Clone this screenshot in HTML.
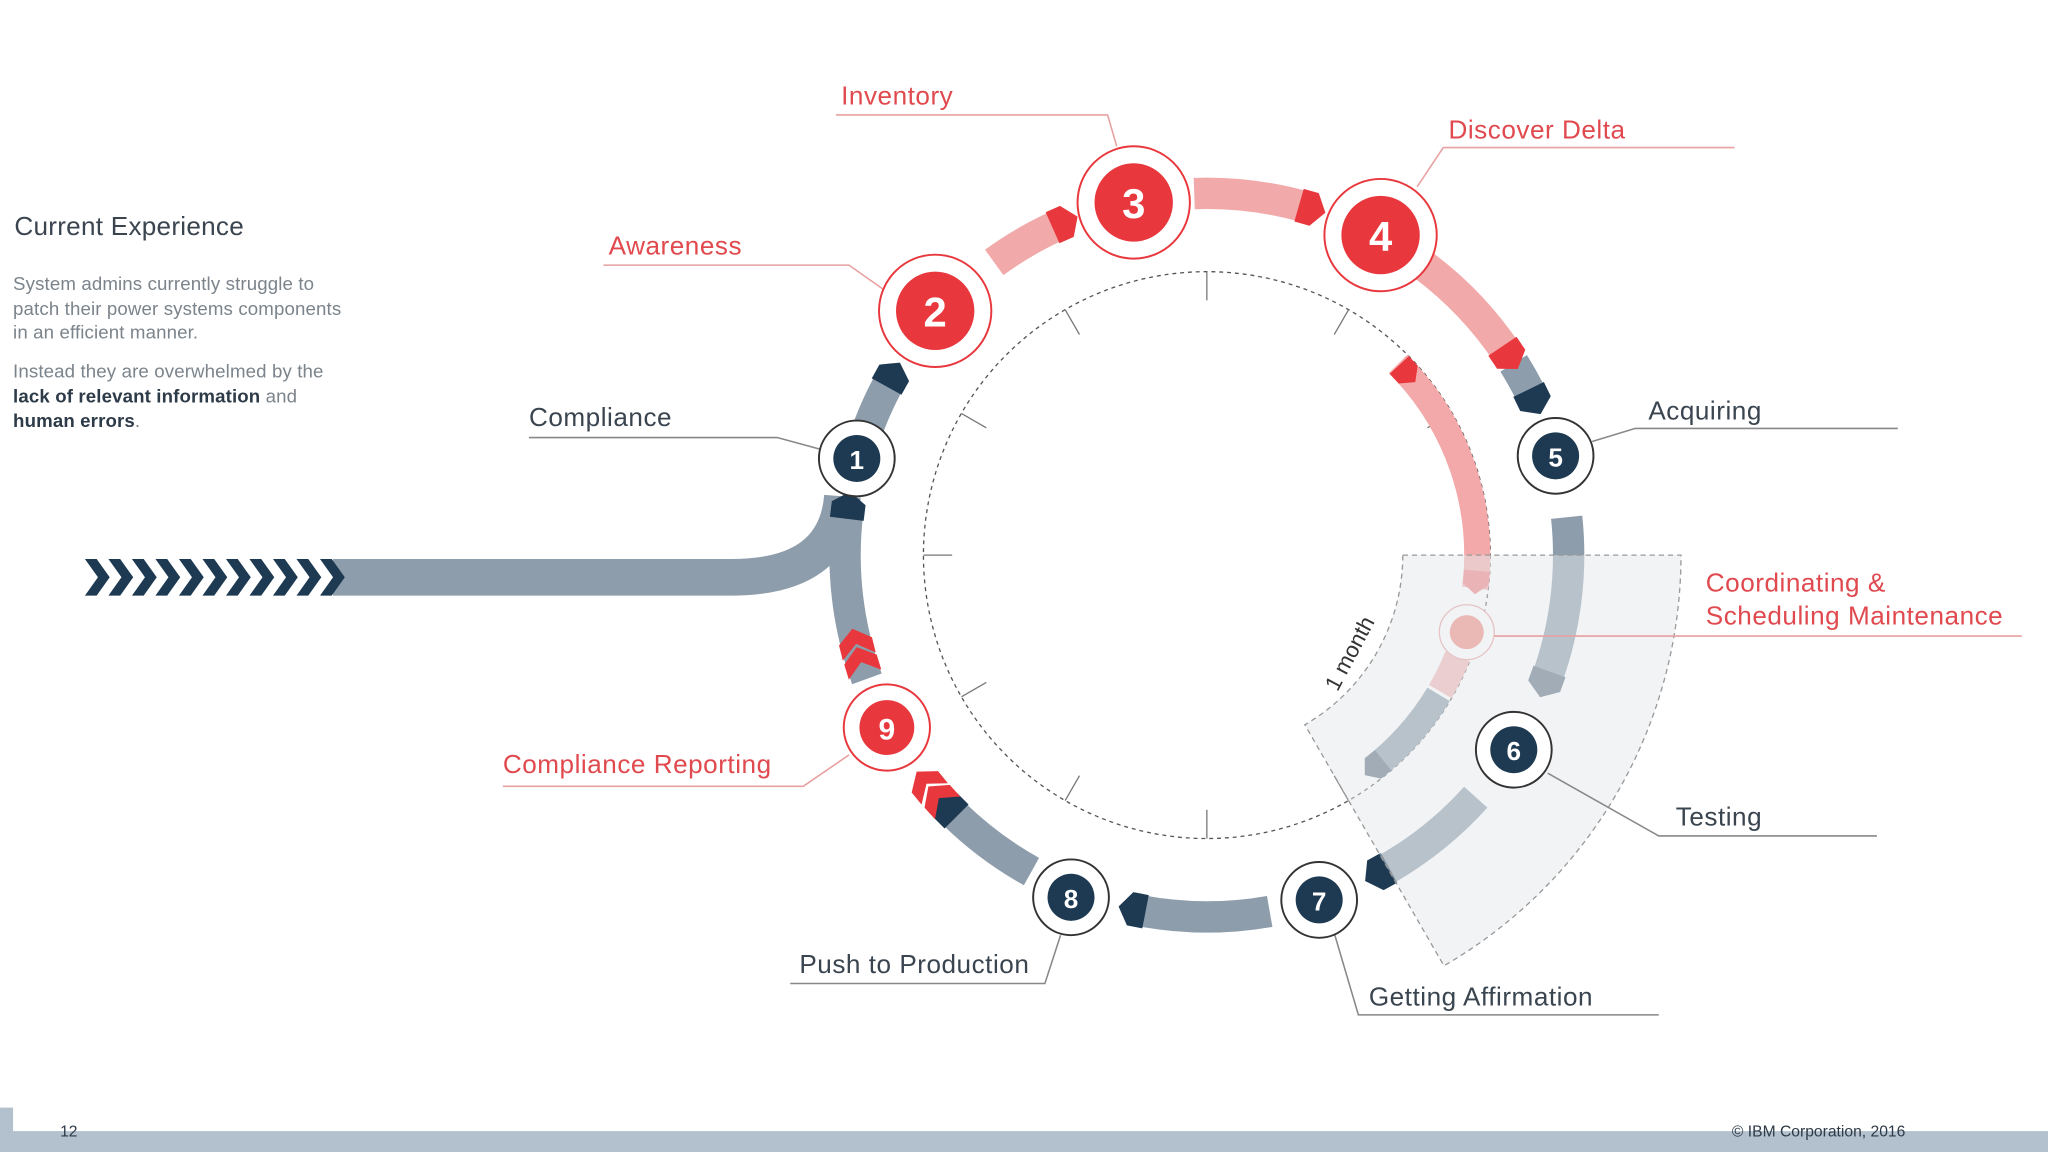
<!DOCTYPE html>
<html><head><meta charset="utf-8"><style>
html,body{margin:0;padding:0;background:#fff;}
svg{display:block;}
text{font-family:"Liberation Sans",sans-serif;}
</style></head><body>
<svg width="2048" height="1152" viewBox="0 0 1568 882" preserveAspectRatio="none" xmlns="http://www.w3.org/2000/svg">
<rect width="1568" height="882" fill="#fff"/>
<!-- left text -->
<text x="11" y="180" font-size="20" fill="#3a4550" letter-spacing="0.2">Current Experience</text>
<g font-size="14.3" fill="#7b838b" letter-spacing="0.1">
<text x="10" y="222">System admins currently struggle to</text>
<text x="10" y="241">patch their power systems components</text>
<text x="10" y="259">in an efficient manner.</text>
<text x="10" y="289">Instead they are overwhelmed by the</text>
<text x="10" y="308"><tspan font-weight="bold" fill="#2d3a47">lack of relevant information</tspan> and</text>
<text x="10" y="327"><tspan font-weight="bold" fill="#2d3a47">human errors</tspan>.</text>
</g>
<!-- entry arrow -->
<path d="M255,442 H560 Q640,442 645,380" fill="none" stroke="#8d9dab" stroke-width="28"/>
<g fill="#1e3a52">
<polygon points="65,428 74,428 84,442 74,456 65,456 75,442"/>
<polygon points="83,428 92,428 102,442 92,456 83,456 93,442"/>
<polygon points="101,428 110,428 120,442 110,456 101,456 111,442"/>
<polygon points="119,428 128,428 138,442 128,456 119,456 129,442"/>
<polygon points="137,428 146,428 156,442 146,456 137,456 147,442"/>
<polygon points="155,428 164,428 174,442 164,456 155,456 165,442"/>
<polygon points="173,428 182,428 192,442 182,456 173,456 183,442"/>
<polygon points="191,428 200,428 210,442 200,456 191,456 201,442"/>
<polygon points="209,428 218,428 228,442 218,456 209,456 219,442"/>
<polygon points="227,428 236,428 246,442 236,456 227,456 237,442"/>
<polygon points="245,428 254,428 264,442 254,456 245,456 255,442"/>
</g>
<!-- dashed inner circle -->
<circle cx="924" cy="425" r="217" fill="none" stroke="#555" stroke-width="1" stroke-dasharray="3 3"/>
<g stroke="#777" stroke-width="1">
<line x1="924" y1="208" x2="924" y2="230"/>
<line x1="924" y1="208" x2="924" y2="230" transform="rotate(30 924 425)"/>
<line x1="924" y1="208" x2="924" y2="230" transform="rotate(60 924 425)"/>
<line x1="924" y1="208" x2="924" y2="230" transform="rotate(150 924 425)"/>
<line x1="924" y1="208" x2="924" y2="230" transform="rotate(180 924 425)"/>
<line x1="924" y1="208" x2="924" y2="230" transform="rotate(210 924 425)"/>
<line x1="924" y1="208" x2="924" y2="230" transform="rotate(240 924 425)"/>
<line x1="924" y1="208" x2="924" y2="230" transform="rotate(270 924 425)"/>
<line x1="924" y1="208" x2="924" y2="230" transform="rotate(300 924 425)"/>
<line x1="924" y1="208" x2="924" y2="230" transform="rotate(330 924 425)"/>
</g>
<!-- outer ring arcs: r=277, 4.834 per degree -->
<g fill="none" stroke-width="24">
<circle cx="924" cy="425" r="277" stroke="#8d9dab" stroke-dasharray="40 2000" transform="rotate(201 924 425)"/>
<circle cx="924" cy="425" r="277" stroke="#f2a9a9" stroke-dasharray="58 2000" transform="rotate(234 924 425)"/>
<circle cx="924" cy="425" r="277" stroke="#f2a9a9" stroke-dasharray="87 2000" transform="rotate(268 924 425)"/>
<circle cx="924" cy="425" r="277" stroke="#f2a9a9" stroke-dasharray="92 2000" transform="rotate(307 924 425)"/>
<circle cx="924" cy="425" r="277" stroke="#8d9dab" stroke-dasharray="36 2000" transform="rotate(328 924 425)"/>
<circle cx="924" cy="425" r="277" stroke="#8d9dab" stroke-dasharray="130 2000" transform="rotate(354 924 425)"/>
<circle cx="924" cy="425" r="277" stroke="#8d9dab" stroke-dasharray="94 2000" transform="rotate(42 924 425)"/>
<circle cx="924" cy="425" r="277" stroke="#8d9dab" stroke-dasharray="104 2000" transform="rotate(80 924 425)"/>
<circle cx="924" cy="425" r="277" stroke="#8d9dab" stroke-dasharray="75 2000" transform="rotate(119 924 425)"/>
<circle cx="924" cy="425" r="277" stroke="#8d9dab" stroke-dasharray="130 2000" transform="rotate(160 924 425)"/>
</g>
<!-- arrowheads -->
<g>
<polygon points="1188,419 1214,419 1214,431 1201,440 1188,431" fill="#1e3a52" transform="rotate(209 924 425)"/>
<polygon points="1188,419 1214,419 1214,431 1201,440 1188,431" fill="#e8383d" transform="rotate(246 924 425)"/>
<polygon points="1188,419 1214,419 1214,431 1201,440 1188,431" fill="#e8383d" transform="rotate(286 924 425)"/>
<polygon points="1188,419 1214,419 1214,431 1201,440 1188,431" fill="#e8383d" transform="rotate(326 924 425)"/>
<polygon points="1188,419 1214,419 1214,431 1201,440 1188,431" fill="#1e3a52" transform="rotate(334 924 425)"/>
<polygon points="1188,419 1214,419 1214,431 1201,440 1188,431" fill="#5f7080" transform="rotate(380 924 425)"/>
<polygon points="1188,419 1214,419 1214,431 1201,440 1188,431" fill="#1e3a52" transform="rotate(61 924 425)"/>
<polygon points="1188,419 1214,419 1214,431 1201,440 1188,431" fill="#1e3a52" transform="rotate(101 924 425)"/>
<polygon points="1188,419 1214,419 1214,431 1201,440 1188,431" fill="#1e3a52" transform="rotate(135 924 425)"/>
<polygon points="1188,414 1201,424 1214,414 1214,426 1201,436 1188,426" fill="#e8383d" transform="rotate(138 924 425)"/>
<polygon points="1188,414 1201,424 1214,414 1214,426 1201,436 1188,426" fill="#e8383d" transform="rotate(141 924 425)"/>
<polygon points="1188,414 1201,424 1214,414 1214,426 1201,436 1188,426" fill="#e8383d" transform="rotate(163 924 425)"/>
<polygon points="1188,414 1201,424 1214,414 1214,426 1201,436 1188,426" fill="#e8383d" transform="rotate(166 924 425)"/>
<polygon points="1188,419 1214,419 1214,431 1201,440 1188,431" fill="#1e3a52" transform="rotate(187 924 425)"/>
</g>
<!-- inner track r=207 -->
<g fill="none" stroke-width="20">
<circle cx="924" cy="425" r="207" stroke="#f3a9a9" stroke-dasharray="188 2000" transform="rotate(315 924 425)"/>
<circle cx="924" cy="425" r="207" stroke="#f3b5b3" stroke-dasharray="30 2000" transform="rotate(22 924 425)"/>
<circle cx="924" cy="425" r="207" stroke="#8d9dab" stroke-dasharray="76 2000" transform="rotate(31 924 425)"/>
</g>
<polygon points="1121,419 1141,419 1141,429 1131,437 1121,429" fill="#e8383d" transform="rotate(-43 924 425)"/>
<polygon points="1121,419 1141,419 1141,429 1131,437 1121,429" fill="#f08080" transform="rotate(5 924 425)"/>
<polygon points="1121,419 1141,419 1141,429 1131,437 1121,429" fill="#5f7080" transform="rotate(51 924 425)"/>
<circle cx="1123" cy="484" r="21" fill="#fff" stroke="#e8a0a0" stroke-width="1"/>
<circle cx="1123" cy="484" r="13" fill="#f08a80"/>
<!-- shaded sector -->
<path d="M1074,425 H1287 A363,363 0 0 1 1105.5,739.4 L999,554.9 A150,150 0 0 0 1074,425 Z" fill="rgba(228,231,235,0.5)" stroke="#999" stroke-width="1" stroke-dasharray="4 3"/>
<text x="0" y="0" font-size="17" fill="#333" transform="translate(1024,530) rotate(-62)">1 month</text>
<!-- connector lines -->
<g fill="none" stroke-width="1.2">
<polyline points="640,88 848,88 855,112" stroke="#e8a0a0"/>
<polyline points="1328,113 1105,113 1085,143" stroke="#e8a0a0"/>
<polyline points="462,203 650,203 677,222" stroke="#e8a0a0"/>
<polyline points="405,335 595,335 628,344" stroke="#888"/>
<polyline points="1453,328 1252,328 1219,338" stroke="#888"/>
<polyline points="1548,487 1144,487" stroke="#e8a0a0"/>
<polyline points="1437,640 1270,640 1185,592" stroke="#888"/>
<polyline points="385,602 615,602 650,578" stroke="#e8a0a0"/>
<polyline points="605,753 800,753 812,716" stroke="#888"/>
<polyline points="1040,777 1270,777 1040,777 1022,716" stroke="#888"/>
</g>
<!-- nodes -->
<g font-weight="bold" text-anchor="middle" fill="#fff">
<circle cx="656" cy="351" r="29" fill="#fff" stroke="#333" stroke-width="1.5"/><circle cx="656" cy="351" r="18" fill="#1e3a52"/><text x="656" y="359" font-size="20" fill="#fff">1</text>
<circle cx="1191" cy="349" r="29" fill="#fff" stroke="#333" stroke-width="1.5"/><circle cx="1191" cy="349" r="18" fill="#1e3a52"/><text x="1191" y="357" font-size="20" fill="#fff">5</text>
<circle cx="1159" cy="574" r="29" fill="#fff" stroke="#333" stroke-width="1.5"/><circle cx="1159" cy="574" r="18" fill="#1e3a52"/><text x="1159" y="582" font-size="20" fill="#fff">6</text>
<circle cx="1010" cy="689" r="29" fill="#fff" stroke="#333" stroke-width="1.5"/><circle cx="1010" cy="689" r="18" fill="#1e3a52"/><text x="1010" y="697" font-size="20" fill="#fff">7</text>
<circle cx="820" cy="687" r="29" fill="#fff" stroke="#333" stroke-width="1.5"/><circle cx="820" cy="687" r="18" fill="#1e3a52"/><text x="820" y="695" font-size="20" fill="#fff">8</text>
<circle cx="716" cy="238" r="43" fill="#fff" stroke="#e8383d" stroke-width="1.5"/><circle cx="716" cy="238" r="30" fill="#e8383d"/><text x="716" y="250" font-size="32" fill="#fff">2</text>
<circle cx="868" cy="155" r="43" fill="#fff" stroke="#e8383d" stroke-width="1.5"/><circle cx="868" cy="155" r="30" fill="#e8383d"/><text x="868" y="167" font-size="32" fill="#fff">3</text>
<circle cx="1057" cy="180" r="43" fill="#fff" stroke="#e8383d" stroke-width="1.5"/><circle cx="1057" cy="180" r="30" fill="#e8383d"/><text x="1057" y="192" font-size="32" fill="#fff">4</text>
<circle cx="679" cy="557" r="33" fill="#fff" stroke="#e8383d" stroke-width="1.5"/><circle cx="679" cy="557" r="21" fill="#e8383d"/><text x="679" y="566" font-size="23" fill="#fff">9</text>
</g>
<!-- labels -->
<g font-size="20" letter-spacing="0.4">
<text x="644" y="80" fill="#e04a4f">Inventory</text>
<text x="1109" y="106" fill="#e04a4f">Discover Delta</text>
<text x="466" y="195" fill="#e04a4f">Awareness</text>
<text x="405" y="326" fill="#3a4550">Compliance</text>
<text x="1262" y="321" fill="#3a4550">Acquiring</text>
<text x="1306" y="453" fill="#e04a4f">Coordinating &amp;</text>
<text x="1306" y="478" fill="#e04a4f">Scheduling Maintenance</text>
<text x="1283" y="632" fill="#3a4550">Testing</text>
<text x="385" y="592" fill="#e04a4f">Compliance Reporting</text>
<text x="612" y="745" fill="#3a4550">Push to Production</text>
<text x="1048" y="770" fill="#3a4550">Getting Affirmation</text>
</g>
<!-- footer -->
<rect x="0" y="848" width="10" height="20" fill="#b3c0cd"/>
<rect x="0" y="866" width="1568" height="16" fill="#b3c0cd"/>
<text x="46" y="870" font-size="12" fill="#2d3a47">12</text>
<text x="1326" y="870" font-size="12" fill="#2d3a47">© IBM Corporation, 2016</text>
</svg>
</body></html>
